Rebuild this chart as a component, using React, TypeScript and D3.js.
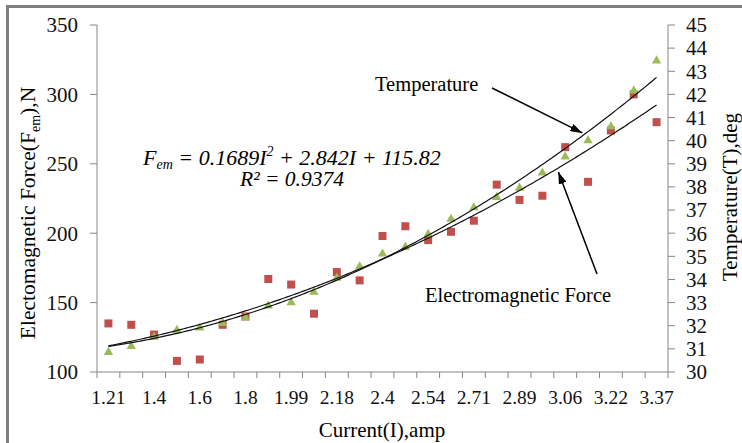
import React from 'react';
import * as d3 from 'd3';

// categories on the x axis (current, amp)
const categories = ['1.21', '1.3', '1.4', '1.5', '1.6', '1.7', '1.8', '1.9', '1.99', '2.09', '2.18', '2.28', '2.4',
  '2.47', '2.54', '2.62', '2.71', '2.8', '2.89', '2.98', '3.06', '3.14', '3.22', '3.3', '3.37'];
// electromagnetic force, N (left axis)
const force = [135, 134, 127, 108, 109, 134, 140, 167, 163, 142, 172, 166, 198, 205, 195, 201, 209, 235, 224, 227,
  262, 237, 274, 300, 280];
// temperature, deg (right axis)
const temperature = [30.9, 31.15, 31.55, 31.85, 31.95, 32.15, 32.4, 32.9, 33.05, 33.5, 34.1, 34.6, 35.15, 35.45, 36.0,
  36.65, 37.15, 37.6, 38.0, 38.65, 39.35, 40.05, 40.65, 42.2, 43.5];
const forceTicks = [100, 150, 200, 250, 300, 350];
const tempTicks = d3.range(30, 46);
// printed trendline of the force series
const forceFit = [0.1689, 2.842, 115.82];

const W = 742, H = 443;
const font = '"Liberation Serif", "Times New Roman", serif';
const axisColor = '#868686';

// least squares quadratic, x = 1..n like the spreadsheet does
function quadFit(ys: number[]) {
  let s = [0, 0, 0, 0, 0], t = [0, 0, 0];
  ys.forEach((y, i) => {
    const x = i + 1;
    for (let k = 0; k < 5; k++) s[k] += Math.pow(x, k);
    for (let k = 0; k < 3; k++) t[k] += y * Math.pow(x, k);
  });
  // solve [s4 s3 s2; s3 s2 s1; s2 s1 s0] [a b c] = [t2 t1 t0]
  const m = [
    [s[4], s[3], s[2], t[2]],
    [s[3], s[2], s[1], t[1]],
    [s[2], s[1], s[0], t[0]]
  ];
  for (let i = 0; i < 3; i++) {
    for (let j = i + 1; j < 3; j++) {
      const f = m[j][i] / m[i][i];
      for (let k = i; k < 4; k++) m[j][k] -= f * m[i][k];
    }
  }
  const r = [0, 0, 0];
  for (let i = 2; i >= 0; i--) {
    let v = m[i][3];
    for (let k = i + 1; k < 3; k++) v -= m[i][k] * r[k];
    r[i] = v / m[i][i];
  }
  return r;
}

export default function App() {
  const left = 97, right = 668, top = 25, bottom = 372;

  const x = d3.scaleBand<string>().domain(categories).range([left, right]).padding(0);
  const bw = x.bandwidth();
  const xi = (t: number) => left + (t - 0.5) * bw;
  const yF = d3.scaleLinear().domain([100, 350]).range([bottom, top]);
  const yT = d3.scaleLinear().domain([30, 45]).range([bottom, top]);

  const tempFit = quadFit(temperature);
  const poly = (c: number[], t: number) => c[0] * t * t + c[1] * t + c[2];
  const steps = d3.range(1, categories.length + 0.001, 0.1);
  const forcePath = d3.line<number>().x(t => xi(t)).y(t => yF(poly(forceFit, t)))(steps);
  const tempPath = d3.line<number>().x(t => xi(t)).y(t => yT(poly(tempFit, t)))(steps);

  const square = d3.symbol().type(d3.symbolSquare).size(64)();
  const tri = d3.symbol().type(d3.symbolTriangle).size(38)();

  // annotation arrows (tip on the trendlines)
  const tTip = 21.75, fTip = 20.7;
  const tArrow = { x1: 492, y1: 88, x2: xi(tTip), y2: yT(poly(tempFit, tTip)) - 3 };
  const fArrow = { x1: 597, y1: 274, x2: xi(fTip), y2: yF(poly(forceFit, fTip)) + 4 };

  return (
    <svg width={W} height={H} style={{ position: 'absolute', left: 0, top: 0, background: '#fff' }}
      fontFamily={font}>
      <defs>
        <marker id="arr" viewBox="0 0 12 8" refX="12" refY="4" markerWidth="12" markerHeight="8"
          markerUnits="userSpaceOnUse" orient="auto">
          <path d="M0,0 L12,4 L0,8 Z" fill="#000" />
        </marker>
      </defs>
      <rect width={W} height={H} fill="#fff" />
      {/* frame */}
      <line x1={7.5} y1={5} x2={7.5} y2={H} stroke="#7f7f7f" strokeWidth={3} />
      <line x1={6} y1={6.5} x2={W} y2={6.5} stroke="#7f7f7f" strokeWidth={3} />

      {/* axes */}
      <line x1={left} y1={top} x2={left} y2={bottom} stroke={axisColor} />
      <line x1={right} y1={top} x2={right} y2={bottom} stroke={axisColor} />
      <line x1={left} y1={bottom} x2={right} y2={bottom} stroke={axisColor} />
      {forceTicks.map(v => (
        <g key={'f' + v}>
          <line x1={left - 7} x2={left} y1={yF(v)} y2={yF(v)} stroke={axisColor} />
          <text x={78} y={yF(v)} dy="0.35em" textAnchor="end" fontSize={21} fill="#111">{v}</text>
        </g>
      ))}
      {tempTicks.map(v => (
        <g key={'t' + v}>
          <line x1={right} x2={right + 7} y1={yT(v)} y2={yT(v)} stroke={axisColor} />
          <text x={686} y={yT(v)} dy="0.35em" textAnchor="start" fontSize={21} fill="#111">{v}</text>
        </g>
      ))}
      {categories.map((c, i) => (
        <line key={'xt' + i} x1={x(c)!} x2={x(c)!} y1={bottom} y2={bottom + 6} stroke={axisColor} />
      ))}
      <line x1={right} x2={right} y1={bottom} y2={bottom + 6} stroke={axisColor} />
      {categories.map((c, i) => i % 2 === 0 ? (
        <text key={'xl' + i} x={x(c)! + bw / 2} y={404} textAnchor="middle" fontSize={19.5} fill="#111">{c}</text>
      ) : null)}

      {/* axis titles */}
      <text x={382} y={437} textAnchor="middle" fontSize={21}>Current(I),amp</text>
      <text transform={`translate(35,${213}) rotate(-90)`} textAnchor="middle" fontSize={21.5}>
        Electomagnetic Force(F<tspan fontSize={14} dy={5}>em</tspan><tspan dy={-5}>),N</tspan>
      </text>
      <text transform={`translate(737,${197}) rotate(-90)`} textAnchor="middle" fontSize={21}>Temperature(T),deg</text>

      {/* markers */}
      {force.map((v, i) => (
        <path key={'s' + i} d={square!} transform={`translate(${x(categories[i])! + bw / 2},${yF(v)})`}
          fill="#C0504D" />
      ))}
      {temperature.map((v, i) => (
        <path key={'g' + i} d={tri!} transform={`translate(${x(categories[i])! + bw / 2},${yT(v) + 1})`}
          fill="#9BBB59" />
      ))}

      {/* trendlines */}
      <path d={forcePath!} fill="none" stroke="#111" strokeWidth={1.2} />
      <path d={tempPath!} fill="none" stroke="#111" strokeWidth={1.2} />

      {/* equation */}
      <text x={143} y={165} fontSize={22} fontStyle="italic">
        F<tspan fontSize={14} dy={4}>em</tspan><tspan dy={-4}> = 0.1689I</tspan>
        <tspan fontSize={14} dy={-9}>2</tspan><tspan dy={9}> + 2.842I + 115.82</tspan>
      </text>
      <text x={240} y={186} fontSize={21.5} fontStyle="italic">R² = 0.9374</text>

      {/* annotations */}
      <text x={375} y={91} fontSize={20.5}>Temperature</text>
      <line {...tArrow} stroke="#000" strokeWidth={1.5} markerEnd="url(#arr)" />
      <text x={425} y={302} fontSize={20.5}>Electromagnetic Force</text>
      <line {...fArrow} stroke="#000" strokeWidth={1.5} markerEnd="url(#arr)" />
    </svg>
  );
}
